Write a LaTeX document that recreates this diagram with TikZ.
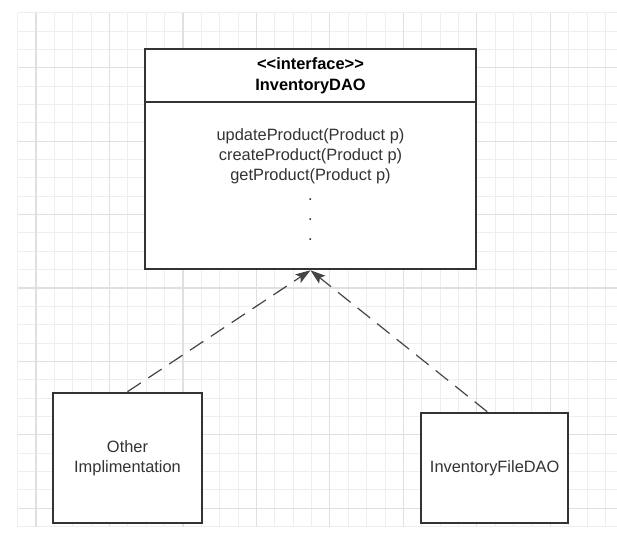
\documentclass[tikz,border=0pt]{standalone}
\usepackage{fontspec}
\setmainfont{Liberation Sans}
\usetikzlibrary{arrows.meta,calc}
\definecolor{gridminor}{HTML}{EEEEEE}
\definecolor{gridmajor}{HTML}{E0E0E0}
\definecolor{boxline}{HTML}{333333}
\definecolor{txt}{HTML}{333333}
\definecolor{dashcol}{HTML}{444444}
\tikzset{
  umlbox/.style={draw=boxline, line width=2pt, fill=white, inner sep=0pt},
  lbl/.style={font=\fontsize{16.4}{19.8}\selectfont, text=txt, inner sep=0pt},
  hdr/.style={font=\fontsize{16.4}{19.8}\selectfont\bfseries, text=black, inner sep=0pt, anchor=base},
  methodline/.style={lbl, anchor=base},
  realize/.style={draw=dashcol, line width=1.2pt, dash pattern=on 16pt off 9pt,
    -{Stealth[length=15pt,width=10pt,inset=3pt]}},
}
\begin{document}
\begin{tikzpicture}[x=1pt,y=-1pt]
\useasboundingbox[fill=white] (0,0) rectangle (617,553);
% grid
\foreach \k in {0,...,32} {
  \pgfmathsetmacro\xx{17.6+18.37*\k}
  \draw[gridminor, line width=1pt] (\xx,12.7) -- (\xx,526.5);
}
\foreach \k in {0,...,28} {
  \pgfmathsetmacro\yy{12.7+18.35*\k}
  \draw[gridminor, line width=1pt] (17.6,\yy) -- (617,\yy);
}
\foreach \k in {1,5,...,29} {
  \pgfmathsetmacro\xx{17.6+18.37*\k}
  \draw[gridmajor, line width=1.2pt] (\xx,12.7) -- (\xx,526.5);
}
\foreach \k in {3,7,...,27} {
  \pgfmathsetmacro\yy{12.7+18.35*\k}
  \draw[gridmajor, line width=1.2pt] (17.6,\yy) -- (617,\yy);
}
% interface box
\node[umlbox, minimum width=331pt, minimum height=220pt] (iface) at (310.5,159.3) {};
\draw[boxline, line width=2pt] ([yshift=-54pt]iface.north west) -- ([yshift=-54pt]iface.north east);
\node[hdr] (stereo) at (310.5,69.3) {<\kern0pt<interface>\kern0pt>};
\node[hdr] (iname) at (310.5,90.7) {InventoryDAO};
\node[methodline] (m1) at (310.5,141.0) {updateProduct(Product p)};
\node[methodline] (m2) at (310.5,160.8) {createProduct(Product p)};
\node[methodline] (m3) at (310.5,180.6) {getProduct(Product p)};
\node[methodline] (m4) at (310.5,200.4) {.};
\node[methodline] (m5) at (310.5,220.2) {.};
\node[methodline] (m6) at (310.5,240.0) {.};
% implementations
\node[umlbox, lbl, align=center, minimum width=148.4pt, minimum height=130.6pt] (other) at (127.5,458) {Other\\Implimentation};
\node[umlbox, lbl, minimum width=147.3pt, minimum height=110.6pt] (fdao) at (494.7,468) {InventoryFileDAO};
% realization arrows
\draw[realize] (other.north) -- (iface.south);
\draw[realize] ([xshift=-7.5pt]fdao.north) -- (iface.south);
\end{tikzpicture}
\end{document}
